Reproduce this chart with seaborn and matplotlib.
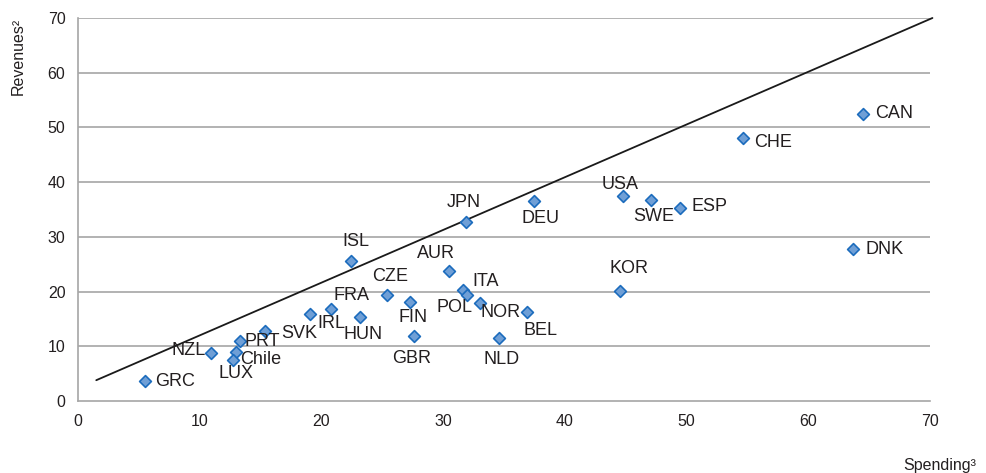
import matplotlib
matplotlib.use("Agg")
import matplotlib.pyplot as plt
import seaborn as sns
import pandas as pd

# Country codes with spending (x) and revenues (y)
countries = ["GRC", "NZL", "PRT", "Chile", "LUX", "SVK", "IRL", "FRA", "HUN", "CZE",
             "ISL", "FIN", "GBR", "AUR", "ITA", "POL", "NOR", "BEL", "NLD", "JPN",
             "DEU", "USA", "SWE", "ESP", "CHE", "CAN", "DNK", "KOR"]
spending = [5.5, 10.9, 13.3, 13.0, 12.7, 15.4, 19.1, 20.8, 23.2, 25.4,
            22.4, 27.3, 27.6, 30.5, 31.6, 32.0, 33.0, 36.9, 34.6, 31.9,
            37.5, 44.8, 47.1, 49.5, 54.6, 64.5, 63.7, 44.5]
revenues = [3.7, 8.7, 11.0, 8.9, 7.5, 12.8, 15.9, 16.8, 15.4, 19.3,
            25.6, 18.1, 11.8, 23.8, 20.3, 19.4, 18.0, 16.2, 11.6, 32.7,
            36.5, 37.5, 36.7, 35.3, 48.0, 52.5, 27.7, 20.1]

# Reference line endpoints
line_x = [1.5, 70.2]
line_y = [3.8, 70.0]

x_ticks = [0, 10, 20, 30, 40, 50, 60, 70]
y_ticks = [0, 10, 20, 30, 40, 50, 60, 70]

# Label placement: (dx px, dy px, horizontal alignment)
label_pos = {
    "GRC": (10, -1, "left"), "NZL": (-5, 3, "right"), "PRT": (5, -1, "left"),
    "Chile": (4, -7, "left"), "LUX": (3, -14, "center"), "SVK": (16, -3, "left"),
    "IRL": (7, -9, "left"), "FRA": (2, 14, "left"), "HUN": (3, -18, "center"),
    "CZE": (3, 19, "center"), "ISL": (5, 19, "center"), "FIN": (3, -16, "center"),
    "GBR": (-2, -22, "center"), "AUR": (-13, 17, "center"), "ITA": (10, 8, "left"),
    "POL": (5, -13, "right"), "NOR": (1, -10, "left"), "BEL": (-4, -18, "left"),
    "NLD": (2, -22, "center"), "JPN": (-2, 20, "center"), "DEU": (6, -17, "center"),
    "USA": (-3, 11, "center"), "SWE": (2, -16, "center"), "ESP": (11, 1, "left"),
    "CHE": (12, -4, "left"), "CAN": (12, 0, "left"), "DNK": (12, 0, "left"),
    "KOR": (9, 23, "center"),
}

df = pd.DataFrame({"country": countries, "spending": spending, "revenues": revenues})

sns.set_style("white")
plt.rcParams["font.family"] = ["Liberation Sans", "DejaVu Sans"]

fig = plt.figure(figsize=(9.87, 4.73), dpi=100)
ax = fig.add_axes([78 / 987, 1 - 401 / 473, 852 / 987, 383 / 473])

grid_color = "#a6a6a6"
for yt in y_ticks[1:]:
    ax.axhline(yt, color=grid_color, lw=1.2, zorder=0)

sns.lineplot(x=line_x, y=line_y, ax=ax, color="#1a1a1a", lw=1.3, zorder=2)
ax.lines[-1].set_clip_on(False)

sns.scatterplot(data=df, x="spending", y="revenues", ax=ax, marker="D", s=36,
                color="#6f9fd6", edgecolor="#1c6cbd", linewidth=1.2, zorder=3)

for name, xv, yv in zip(countries, spending, revenues):
    dx, dy, ha = label_pos[name]
    ax.annotate(name, (xv, yv), xytext=(dx, dy), textcoords="offset pixels",
                ha=ha, va="center", fontsize=13, color="#231f20", zorder=4)

ax.set_xlim(0, 70)
ax.set_ylim(0, 70)
ax.set_xticks(x_ticks)
ax.set_yticks(y_ticks)
ax.tick_params(axis="both", labelsize=11.5, colors="#231f20", length=5,
               width=1.2, direction="out", pad=4)
ax.tick_params(axis="both", color=grid_color)
for side in ["top", "right"]:
    ax.spines[side].set_visible(False)
for side in ["left", "bottom"]:
    ax.spines[side].set_color(grid_color)
    ax.spines[side].set_linewidth(1.2)

ax.set_xlabel("")
ax.set_ylabel("")
fig.text(18 / 987, 1 - 18 / 473, "Revenues²", rotation=90, ha="center", va="top",
         fontsize=11.5, color="#231f20")
fig.text(976 / 987, 1 - 465 / 473, "Spending³", ha="right", va="center",
         fontsize=11.5, color="#231f20")

fig.savefig("out.png", dpi=100)
